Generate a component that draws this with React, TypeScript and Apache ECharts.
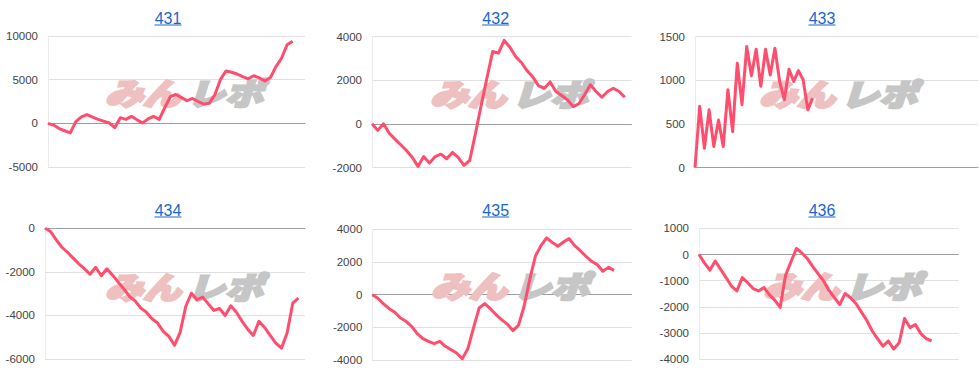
import React, { useEffect, useRef } from "react";
import * as echarts from "echarts";

const titles = ["431", "432", "433", "434", "435", "436"];

const d431 = [0, -200, -600, -850, -1100, 200, 750, 1000, 700, 450, 250, 50, -500, 650, 450, 800, 400, 50, 500, 800, 450, 1800, 3050, 3300, 2950, 2600, 2850, 2500, 2200, 2300, 3250, 5000, 6000, 5850, 5650, 5350, 5100, 5450, 5200, 4850, 5250, 6500, 7450, 9000, 9400];
const d432 = [0, -300, 0, -430, -700, -960, -1220, -1530, -1950, -1500, -1800, -1500, -1390, -1600, -1310, -1540, -1900, -1680, -450, 850, 2100, 3310, 3240, 3820, 3510, 3080, 2810, 2430, 2140, 1740, 1630, 1920, 1480, 1300, 1100, 790, 920, 1330, 1790, 1480, 1220, 1480, 1630, 1480, 1220];
const d433 = [0, 700, 220, 660, 240, 545, 240, 890, 410, 1195, 720, 1385, 1050, 1355, 930, 1355, 1060, 1365, 985, 775, 1125, 985, 1110, 1005, 660, 795];
const d434 = [0, -150, -530, -870, -1100, -1370, -1630, -1850, -2110, -1790, -2180, -1860, -2150, -2470, -2780, -3130, -3330, -3660, -3850, -4150, -4350, -4730, -4960, -5370, -4780, -3590, -2980, -3280, -3160, -3470, -3770, -3680, -4000, -3560, -3850, -4270, -4630, -4920, -4270, -4550, -4920, -5270, -5500, -4810, -3440, -3210];
const d435 = [0, -220, -570, -860, -1080, -1430, -1630, -1940, -2390, -2690, -2860, -3000, -2860, -3160, -3370, -3570, -3920, -3310, -2040, -820, -550, -860, -1220, -1530, -1800, -2200, -1880, -710, 920, 2350, 3000, 3470, 3200, 2960, 3220, 3430, 3000, 2690, 2350, 2040, 1840, 1430, 1670, 1490];
const d436 = [0, -320, -600, -250, -570, -880, -1210, -1390, -880, -1080, -1300, -1390, -1260, -1530, -1740, -2020, -790, -280, 230, 60, -150, -450, -730, -1000, -1360, -1640, -1910, -1490, -1650, -1870, -2190, -2510, -2910, -3210, -3500, -3300, -3610, -3370, -2440, -2790, -2670, -3020, -3210, -3300];

const seriesData = [d431, d432, d433, d434, d435, d436];
const yMin = [-5000, -2000, 0, -6000, -4000, -4000];
const yMax = [10000, 4000, 1500, 0, 4000, 1000];
const yInterval = [5000, 2000, 500, 2000, 2000, 1000];
const xMax = [46.22, 45.16, 60.2, 46.18, 46.14, 47.93];

// layout (pixels)
const grids = [
  { left: 48, top: 36, width: 257, height: 131 },
  { left: 372, top: 36.5, width: 259.5, height: 131 },
  { left: 695, top: 36.5, width: 283, height: 131 },
  { left: 45, top: 228.3, width: 260, height: 130.7 },
  { left: 372.3, top: 229.3, width: 259.4, height: 130.7 },
  { left: 699, top: 228.3, width: 259.3, height: 131 },
];
const titlePos = [
  [168, 18.5], [495.7, 18.5], [822, 18.5],
  [168, 210.5], [495.7, 210.5], [822, 210.5],
];
const markPos = [
  [185, 92], [510, 93], [839, 93],
  [185, 286], [511, 285], [843, 285],
];

const LINE = "#ff4d6d";
const TITLE = "#1a66cc";
const MARK_FONT = "italic 900 38px 'Noto Sans CJK JP', 'Noto Sans CJK SC', sans-serif";

export default function App() {
  const ref = useRef<HTMLDivElement>(null);
  useEffect(() => {
    if (!ref.current) return;
    const chart = echarts.init(ref.current, undefined, { renderer: "svg" });
    const graphics: any[] = [];
    titles.forEach((t, i) => {
      const [cx, cy] = titlePos[i];
      graphics.push({
        type: "text",
        x: cx,
        y: cy,
        z: 10,
        style: {
          text: t,
          fill: TITLE,
          font: "16px Arial, 'Liberation Sans', sans-serif",
          align: "center",
          verticalAlign: "middle",
        },
      });
      graphics.push({
        type: "line",
        z: 10,
        shape: { x1: cx - 13.5, y1: cy + 6.5, x2: cx + 13.5, y2: cy + 6.5 },
        style: { stroke: TITLE, lineWidth: 1 },
      });
      const [mx, my] = markPos[i];
      graphics.push({
        type: "text",
        x: mx - 80,
        y: my,
        z: 1,
        scaleY: 0.8,
        style: {
          text: "みん",
          fill: "#efc0c0",
          stroke: "#efc0c0",
          lineWidth: 3,
          font: MARK_FONT,
          align: "left",
          verticalAlign: "middle",
        },
      });
      graphics.push({
        type: "text",
        x: mx + 2,
        y: my,
        z: 1,
        scaleY: 0.8,
        style: {
          text: "レポ",
          fill: "#c6c6c6",
          stroke: "#c6c6c6",
          lineWidth: 3,
          font: MARK_FONT,
          align: "left",
          verticalAlign: "middle",
        },
      });
    });

    const option: any = {
      animation: false,
      backgroundColor: "#ffffff",
      grid: grids.map((g) => ({ ...g, containLabel: false })),
      xAxis: seriesData.map((_, i) => ({
        type: "value",
        gridIndex: i,
        min: 0,
        max: xMax[i],
        axisLine: { show: true, onZero: true, lineStyle: { color: "#9e9e9e", width: 1 } },
        axisTick: { show: false },
        axisLabel: { show: false },
        splitLine: { show: false },
      })),
      yAxis: seriesData.map((_, i) => ({
        type: "value",
        gridIndex: i,
        min: yMin[i],
        max: yMax[i],
        interval: yInterval[i],
        axisLine: { show: true, lineStyle: { color: "#ebebeb", width: 1 } },
        axisTick: { show: false },
        axisLabel: {
          color: "#444444",
          fontSize: 11.5,
          fontFamily: "Arial, 'Liberation Sans', sans-serif",
          margin: 10,
          formatter: (v: number) => String(v),
        },
        splitLine: { show: true, lineStyle: { color: "#e0e0e0", width: 1 } },
      })),
      series: seriesData.map((d, i) => ({
        type: "line",
        xAxisIndex: i,
        yAxisIndex: i,
        data: d.map((v, k) => [k, v]),
        showSymbol: false,
        symbol: "none",
        z: 5,
        lineStyle: { color: LINE, width: 3, join: "round" },
      })),
      graphic: graphics,
    };
    chart.setOption(option);
    return () => chart.dispose();
  }, []);
  return (
    <div
      ref={ref}
      style={{ position: "fixed", left: 0, top: 0, width: 979, height: 382, background: "#fff" }}
    />
  );
}
